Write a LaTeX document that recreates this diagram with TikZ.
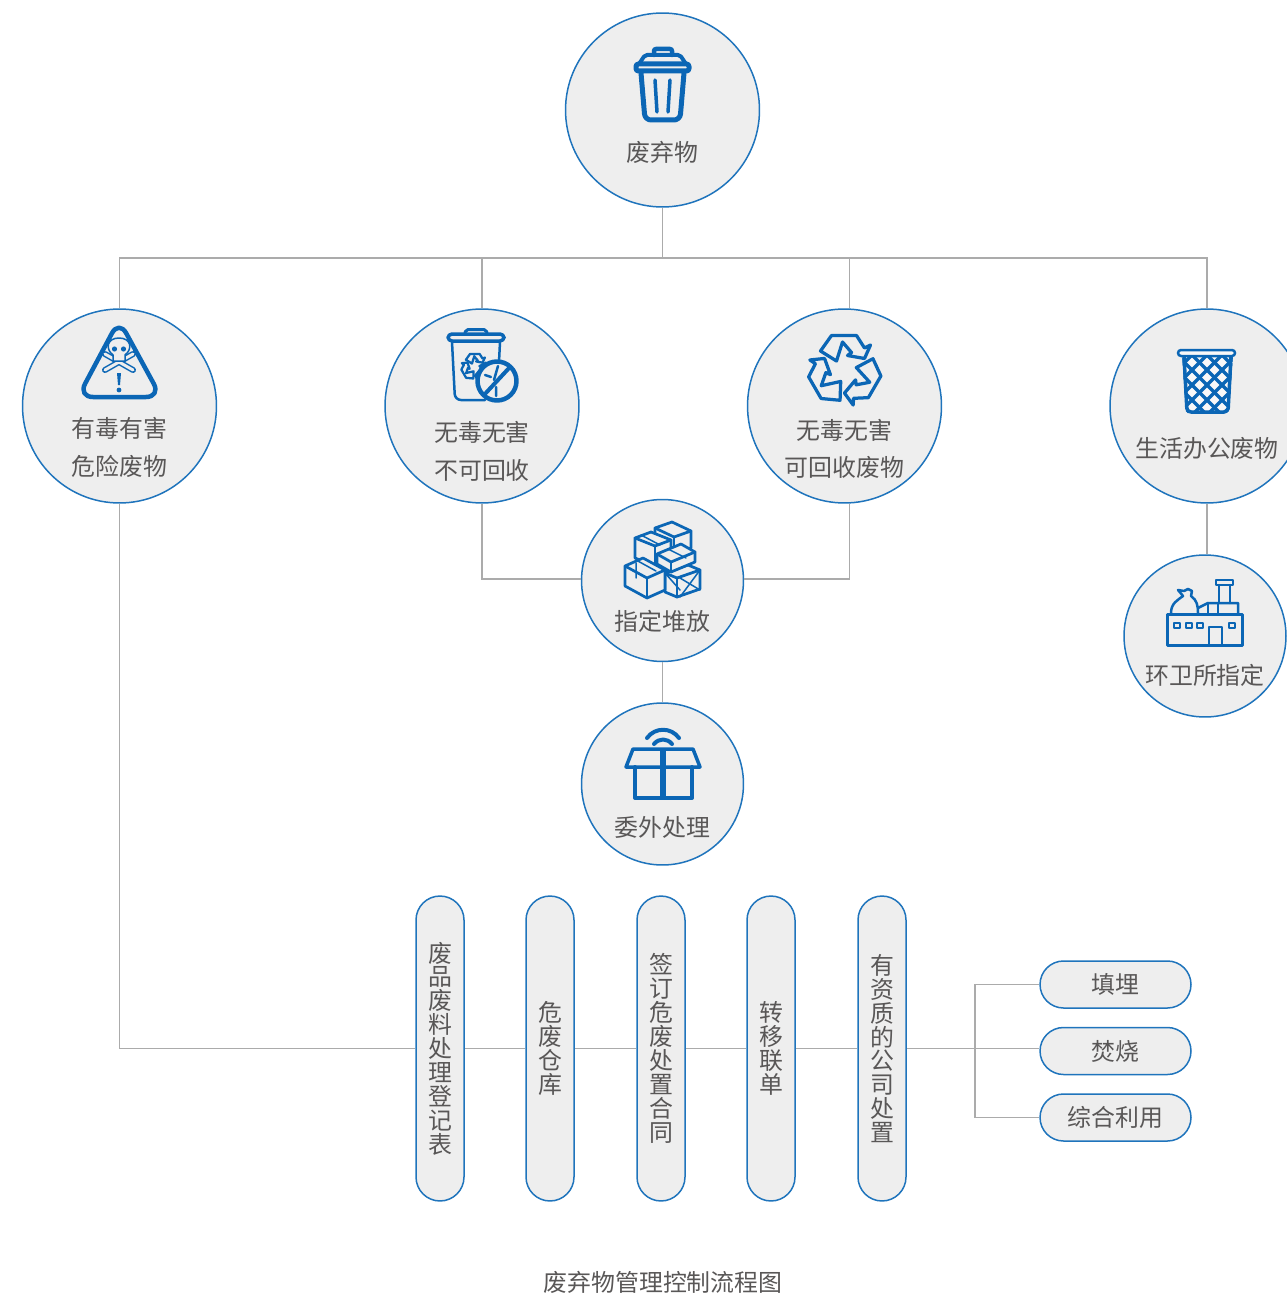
\documentclass[tikz,border=0pt]{standalone}
\usepackage{fontspec}
\setmainfont{Noto Sans CJK SC}
\definecolor{iconblue}{HTML}{0B66B5}
\definecolor{ringblue}{HTML}{1F74BC}
\definecolor{discgray}{HTML}{EEEEEE}
\definecolor{inkgray}{HTML}{595757}
\definecolor{wiregray}{HTML}{ABABAB}
\tikzset{
  bigdisc/.style={circle, draw=ringblue, fill=discgray, line width=0.03cm, minimum size=3.88cm, inner sep=0},
  smalldisc/.style={circle, draw=ringblue, fill=discgray, line width=0.03cm, minimum size=3.24cm, inner sep=0},
  tallpill/.style={rectangle, rounded corners=0.48cm, draw=ringblue, fill=discgray, line width=0.03cm, minimum width=0.96cm, minimum height=6.1cm, inner sep=0, align=center, text=inkgray, font=\fontsize{13.6}{13.6}\selectfont},
  widepill/.style={rectangle, rounded corners=0.47cm, draw=ringblue, fill=discgray, line width=0.03cm, minimum width=3.02cm, minimum height=0.94cm, inner sep=0, text=inkgray, font=\fontsize{13.6}{16}\selectfont},
  caption/.style={inner sep=0, align=center, text=inkgray, font=\fontsize{13.6}{21.5}\selectfont},
  link/.style={draw=wiregray, line width=0.027cm},
  iconline/.style={draw=iconblue, line width=0.07cm, line join=round, line cap=round},
  iconthin/.style={draw=iconblue, line width=0.055cm, line join=round, line cap=round},
}
% caja isometrica: vertice superior, izquierda, derecha, altura
\newcommand{\cratebox}[7]{
  \draw[iconthin, fill=discgray] (#1,#2) -- ++(-#3,#4) -- ++(0,#7) -- ++(#5,#6) -- ++(#3,-#4) -- ++(0,-#7) -- cycle;
  \draw[iconthin] (#1,#2) ++(-#3,#4) -- ++(#5,#6) -- ++(#3,-#4);
  \draw[iconthin] (#1,#2) ++(-#3,#4) ++(#5,#6) -- ++(0,#7);
}
% simbolo de reciclaje: centro, escala, grosor
\newcommand{\recyclemark}[4]{
  \begin{scope}[shift={(#1,#2)}, scale=#3]
    \foreach \a in {0,120,240}
      \draw[iconblue, line width=#4, line join=round, rotate=\a] (-24,-19) -- (-13,-34.5) -- (12,-34.5) -- (20,-22) -- (26,-25) -- (20,-11.5) -- (3,-14.5) -- (7,-17.5) -- (-2,-28) -- (-8,-9) -- cycle;
  \end{scope}
}
\begin{document}
\begin{tikzpicture}[x=0.02cm, y=-0.02cm]
    \useasboundingbox (0,0) rectangle (1287,1294);
    % Discos
    \node[bigdisc] (waste) at (662.5,110) {};
    \node[bigdisc] (hazard) at (119.5,406) {};
    \node[bigdisc] (plain) at (482,406) {};
    \node[bigdisc] (recycle) at (844.5,406) {};
    \node[bigdisc] (office) at (1207,406) {};
    \node[smalldisc] (store) at (662.5,580.5) {};
    \node[smalldisc] (sanit) at (1205,636) {};
    \node[smalldisc] (outsource) at (662.5,784) {};
    % Textos de los discos
    \node[caption] (wastetxt) at (662.5,152) {废弃物};
    \node[caption] (hazardtxt) at (119.5,447.5) {有毒有害\\危险废物};
    \node[caption] (plaintxt) at (482,451) {无毒无害\\不可回收};
    \node[caption] (recycletxt) at (844.5,449) {无毒无害\\可回收废物};
    \node[caption] (officetxt) at (1207,448) {生活办公废物};
    \node[caption] (storetxt) at (662.5,621) {指定堆放};
    \node[caption] (sanittxt) at (1205,675) {环卫所指定};
    \node[caption] (outsourcetxt) at (662.5,827) {委外处理};
    % Pastillas verticales
    \node[tallpill] (ledger) at (440,1048.5) {废\\品\\废\\料\\处\\理\\登\\记\\表};
    \node[tallpill] (depot) at (550,1048.5) {危\\废\\仓\\库};
    \node[tallpill] (contract) at (661,1048.5) {签\\订\\危\\废\\处\\置\\合\\同};
    \node[tallpill] (manifest) at (771,1048.5) {转\\移\\联\\单};
    \node[tallpill] (firm) at (882,1048.5) {有\\资\\质\\的\\公\\司\\处\\置};
    % Pastillas horizontales
    \node[widepill] (landfill) at (1115.5,984.5) {填埋};
    \node[widepill] (burn) at (1115.5,1051) {焚烧};
    \node[widepill] (reuse) at (1115.5,1117.5) {综合利用};
    \node[caption] (title) at (663,1282) {废弃物管理控制流程图};
    % Conectores
    \coordinate (bus) at (662.5,258);
    \coordinate (fork) at (975,1048.5);
    \draw[link] (waste) -- (bus);
    \draw[link] (bus) -| (hazard);
    \draw[link] (bus) -| (plain);
    \draw[link] (bus) -| (recycle.87.3);
    \draw[link] (bus) -| (office);
    \draw[link] (hazard) |- (ledger);
    \draw[link] (plain) |- (store.179);
    \draw[link] (recycle.-87.3) |- (store.1);
    \draw[link] (store) -- (outsource);
    \draw[link] (office.south) -- (office.south |- sanit.north);
    \draw[link] (ledger) -- (depot);
    \draw[link] (depot) -- (contract);
    \draw[link] (contract) -- (manifest);
    \draw[link] (manifest) -- (firm);
    \draw[link] (firm) -- (fork);
    \draw[link] (fork) -- (fork -| burn.west);
    \draw[link] (fork) |- (landfill);
    \draw[link] (fork) |- (reuse);
    % Icono: cubo de basura
    \draw[iconline, line width=0.09cm, rounded corners=0.04cm] (654,55) -- (654,49) -- (672,49) -- (672,55);
    \draw[iconline, line width=0.08cm, rounded corners=0.04cm] (639,64) -- (645,55) -- (680,55) -- (686,64);
    \draw[iconline, line width=0.1cm, rounded corners=0.05cm] (636,64) -- (689,64) -- (689,71) -- (636,71) -- cycle;
    \draw[iconline, line width=0.1cm, rounded corners=0.12cm] (641,73) -- (645,120) -- (680,120) -- (684,73);
    \draw[iconline] (655,80) -- (657,112);
    \draw[iconline] (670,80) -- (668,112);
    % Icono: peligro
    \draw[iconline, line width=0.09cm, rounded corners=0.3cm] (119,320) -- (161,397) -- (78,397) -- cycle;
    \draw[iconblue, line width=0.12cm, line cap=round] (105,354) -- (133,370) (133,354) -- (105,370);
    \draw[discgray, line width=0.06cm, line cap=round] (105,354) -- (133,370) (133,354) -- (105,370);
    \draw[iconthin, line width=0.03cm, fill=discgray] (119,338) .. controls (107,338) and (105,349) .. (113,355) -- (113,361) -- (125,361) -- (125,355) .. controls (133,349) and (131,338) .. (119,338) -- cycle;
    \fill[iconblue] (114.5,349) circle (2.6) (123.5,349) circle (2.6);
    \fill[iconblue] (117,373) -- (121,373) -- (120,385) -- (118,385) -- cycle;
    \fill[iconblue] (119,390) circle (2.4);
    % Icono: no reciclable
    \draw[iconline, line width=0.06cm, rounded corners=0.04cm] (465,333) -- (466,329.5) -- (486,329.5) -- (487,333);
    \draw[iconline, rounded corners=0.08cm] (448,334) -- (504,334) -- (504,341) -- (448,341) -- cycle;
    \draw[iconline, line width=0.05cm, rounded corners=0.12cm] (452,342) -- (455,400) -- (485,400);
    \draw[iconline, line width=0.05cm] (500,342) -- (499,362);
    \recyclemark{475}{367}{0.38}{0.045cm}
    \draw[iconline, line width=0.09cm, fill=discgray] (497,381) circle (19.5);
    \draw[iconline, line width=0.08cm] (484,395) -- (510,367);
    \draw[iconline, line width=0.05cm] (485,375) -- (491,377) (498,366) -- (494,380) (496,387) -- (496,396);
    % Icono: reciclable
    \recyclemark{844.5}{370}{1}{0.065cm}
    % Icono: papelera de rejilla
    \begin{scope}
      \clip (1182,355) -- (1186,413) -- (1229,413) -- (1233,355) -- cycle;
      \fill[white!60!discgray] (1170,350) rectangle (1245,420);
      \foreach \k in {-6,...,6} {
        \draw[iconblue, line width=0.07cm] (1207+\k*15-35,350) -- ++(70,70);
        \draw[iconblue, line width=0.07cm] (1207+\k*15+35,350) -- ++(-70,70);
      }
    \end{scope}
    \draw[iconline, rounded corners=0.08cm] (1184,356) -- (1187,412) -- (1228,412) -- (1231,356);
    \draw[iconline, line width=0.05cm, fill=white!60!discgray, rounded corners=0.06cm] (1178,350) rectangle (1235,356);
    % Icono: cajas apiladas
    \cratebox{672}{522}{17}{6}{19}{9}{17}
    \cratebox{651}{532}{16}{6}{20}{8}{20}
    \cratebox{688}{565}{23}{8}{12}{5}{19}
    \cratebox{681}{544}{24}{10}{14}{8}{10}
    \cratebox{643}{558}{18}{8}{22}{12}{20}
    \draw[iconthin, line width=0.03cm] (680,578) -- (700,590) (680,597) -- (700,570) (665,573) -- (680,590);
    \draw[iconthin, line width=0.03cm] (636,560) -- (656,571) (636,563) -- (636,578) (641,535) -- (660,545) (668,549) -- (686,558);
    % Icono: caja con antena
    \draw[iconline, line width=0.08cm] (647,738) .. controls (655,727) and (671,727) .. (679,738);
    \draw[iconline, line width=0.08cm] (654,744) .. controls (659,738) and (667,738) .. (672,744);
    \draw[iconline, line width=0.07cm] (633,749) -- (693,749) -- (700,767) -- (626,767) -- cycle;
    \draw[iconline, line width=0.08cm] (635,767) -- (635,798) -- (692,798) -- (692,767);
    \draw[iconblue, line width=0.11cm] (663,749) -- (663,798);
    % Icono: planta de residuos
    \draw[iconline, line width=0.06cm] (1167,614) rectangle (1242,645);
    \draw[iconline, line width=0.05cm] (1174,623) rectangle (1180,628) (1186,623) rectangle (1192,628) (1197,623) rectangle (1203,628) (1229,623) rectangle (1235,628);
    \draw[iconline, line width=0.05cm] (1209,645) -- (1209,627) -- (1222,627) -- (1222,645);
    \draw[iconline, line width=0.05cm] (1171,613) .. controls (1171,603) and (1178,600) .. (1183,596) -- (1178,590) -- (1184,591) -- (1188,589) -- (1192,591) -- (1191,596) .. controls (1197,600) and (1198,606) .. (1198,613);
    \draw[iconline, line width=0.05cm] (1198,608) -- (1208,603) -- (1238,603) -- (1238,613);
    \draw[iconline, line width=0.05cm] (1218,603) -- (1218,613) (1208,603) -- (1208,613);
    \draw[iconline, line width=0.05cm] (1219,603) -- (1219,585) (1230,603) -- (1230,585);
    \draw[iconline, line width=0.05cm] (1216,580) rectangle (1233,585);
\end{tikzpicture}
\end{document}
